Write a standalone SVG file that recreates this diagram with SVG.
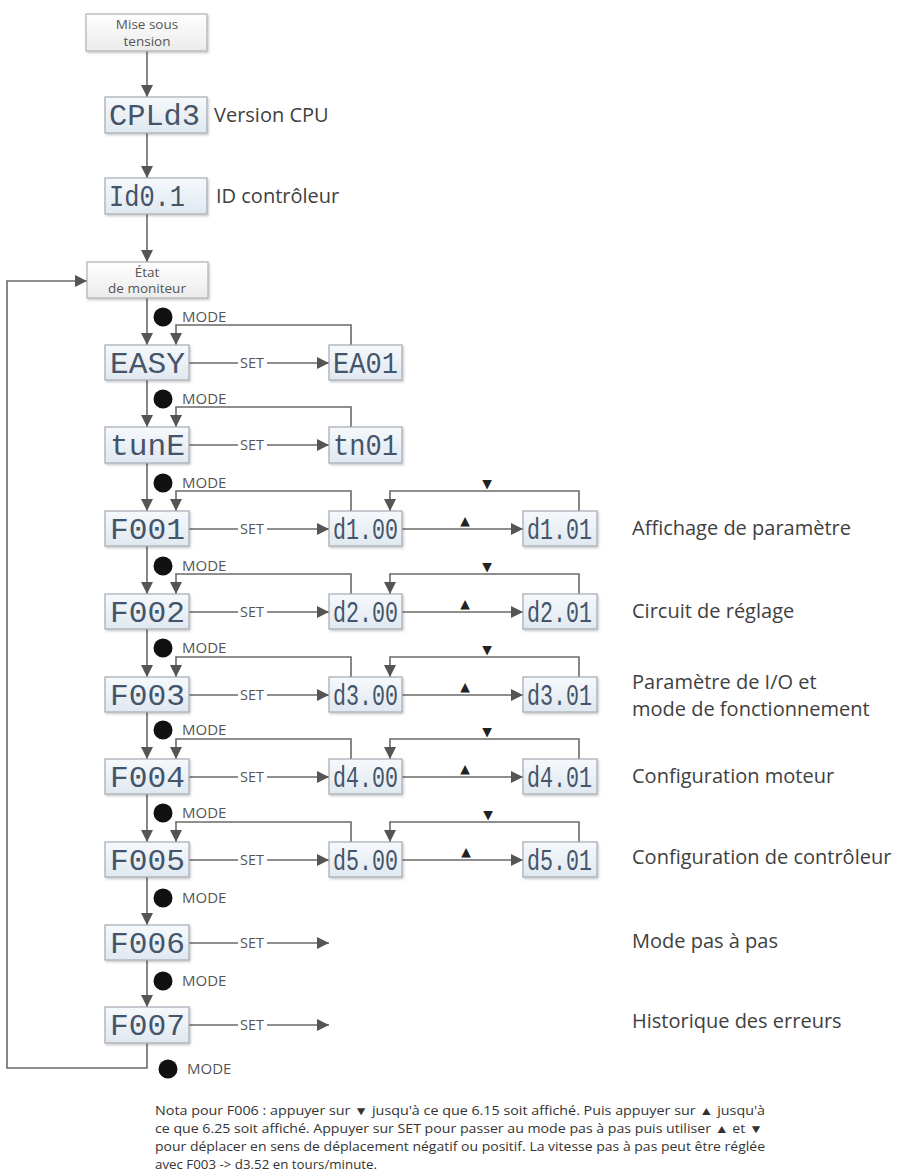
<svg xmlns="http://www.w3.org/2000/svg" width="901" height="1173" viewBox="0 0 901 1173">
<style>
.bg{fill:#ffffff}
.conn{stroke:#6a6a6a;stroke-width:1.6;fill:none}
.lcd{fill:url(#lcdGrad);stroke:#a3abb3;stroke-width:1.2;filter:url(#shadow)}
.plain{fill:url(#plainGrad);stroke:#b0b0b0;stroke-width:1.2;filter:url(#shadow)}
.lcdtxt{font-family:"Liberation Mono","DejaVu Sans Mono",monospace;font-size:30px;fill:#44546a}
.boxtxt{font-family:"Open Sans","Liberation Sans",sans-serif;font-size:13.5px;fill:#555;text-anchor:middle}
.lbl{font-family:"Open Sans","Liberation Sans",sans-serif;font-size:20px;fill:#404040}
.mode{font-family:"Open Sans","Liberation Sans",sans-serif;font-size:15px;fill:#555}
.set{font-family:"Open Sans","Liberation Sans",sans-serif;font-size:14.5px;fill:#555;text-anchor:middle}
.key{font-family:"DejaVu Sans",sans-serif;font-size:12.5px;fill:#222;text-anchor:middle}
.note{font-family:"Open Sans","Liberation Sans","DejaVu Sans",sans-serif;font-size:12px;fill:#333}
.dot{fill:#111}
</style>
<defs>
<linearGradient id="lcdGrad" x1="0" y1="0" x2="0" y2="1"><stop offset="0" stop-color="#f6f9fc"/><stop offset="1" stop-color="#e0e8f0"/></linearGradient>
<linearGradient id="plainGrad" x1="0" y1="0" x2="0" y2="1"><stop offset="0" stop-color="#ffffff"/><stop offset="1" stop-color="#ebebeb"/></linearGradient>
<filter id="shadow" x="-10%" y="-10%" width="125%" height="135%"><feDropShadow dx="1.2" dy="1.5" stdDeviation="0.8" flood-color="#000" flood-opacity="0.22"/></filter>
<marker id="arr" markerUnits="userSpaceOnUse" markerWidth="12" markerHeight="12" refX="12" refY="6" orient="auto"><path d="M0,0 L12,6 L0,12 z" fill="#555"/></marker>
</defs>
<rect class="bg" x="0" y="0" width="901" height="1173"/>

<g id="connectors">
<path class="conn" d="M147,51 V97" marker-end="url(#arr)"/>
<path class="conn" d="M147,133 V178" marker-end="url(#arr)"/>
<path class="conn" d="M147,214 V262" marker-end="url(#arr)"/>
<path class="conn" d="M147,1043 V1068 H7 V281 H87" marker-end="url(#arr)"/>
<path class="conn" d="M147,298 V345" marker-end="url(#arr)"/>
<path class="conn" d="M147,380 V427" marker-end="url(#arr)"/>
<path class="conn" d="M147,463 V511" marker-end="url(#arr)"/>
<path class="conn" d="M147,546 V594" marker-end="url(#arr)"/>
<path class="conn" d="M147,629 V677" marker-end="url(#arr)"/>
<path class="conn" d="M147,712 V759" marker-end="url(#arr)"/>
<path class="conn" d="M147,794 V842" marker-end="url(#arr)"/>
<path class="conn" d="M147,877 V925" marker-end="url(#arr)"/>
<path class="conn" d="M147,960 V1007" marker-end="url(#arr)"/>
<path class="conn" d="M351,345 V325 H176 V345" marker-end="url(#arr)"/>
<path class="conn" d="M351,427 V407 H176 V427" marker-end="url(#arr)"/>
<path class="conn" d="M351,511 V491 H176 V511" marker-end="url(#arr)"/>
<path class="conn" d="M351,594 V574 H176 V594" marker-end="url(#arr)"/>
<path class="conn" d="M351,677 V657 H176 V677" marker-end="url(#arr)"/>
<path class="conn" d="M351,759 V739 H176 V759" marker-end="url(#arr)"/>
<path class="conn" d="M351,842 V822 H176 V842" marker-end="url(#arr)"/>
<path class="conn" d="M579,511 V491 H390 V511" marker-end="url(#arr)"/>
<path class="conn" d="M579,594 V574 H390 V594" marker-end="url(#arr)"/>
<path class="conn" d="M579,677 V657 H390 V677" marker-end="url(#arr)"/>
<path class="conn" d="M579,759 V739 H390 V759" marker-end="url(#arr)"/>
<path class="conn" d="M579,842 V822 H390 V842" marker-end="url(#arr)"/>
<path class="conn" d="M189,363 H238 M267,363 H329" marker-end="url(#arr)"/>
<path class="conn" d="M189,445 H238 M267,445 H329" marker-end="url(#arr)"/>
<path class="conn" d="M189,529 H238 M267,529 H329" marker-end="url(#arr)"/>
<path class="conn" d="M189,612 H238 M267,612 H329" marker-end="url(#arr)"/>
<path class="conn" d="M189,695 H238 M267,695 H329" marker-end="url(#arr)"/>
<path class="conn" d="M189,777 H238 M267,777 H329" marker-end="url(#arr)"/>
<path class="conn" d="M189,860 H238 M267,860 H329" marker-end="url(#arr)"/>
<path class="conn" d="M189,943 H238 M267,943 H329" marker-end="url(#arr)"/>
<path class="conn" d="M189,1025 H238 M267,1025 H329" marker-end="url(#arr)"/>
<path class="conn" d="M402,529 H523" marker-end="url(#arr)"/>
<path class="conn" d="M402,612 H523" marker-end="url(#arr)"/>
<path class="conn" d="M402,695 H523" marker-end="url(#arr)"/>
<path class="conn" d="M402,777 H523" marker-end="url(#arr)"/>
<path class="conn" d="M402,860 H523" marker-end="url(#arr)"/>
<text class="set" x="252" y="368">SET</text>
<text class="set" x="252" y="450">SET</text>
<text class="set" x="252" y="534">SET</text>
<text class="set" x="252" y="617">SET</text>
<text class="set" x="252" y="700">SET</text>
<text class="set" x="252" y="782">SET</text>
<text class="set" x="252" y="865">SET</text>
<text class="set" x="252" y="948">SET</text>
<text class="set" x="252" y="1030">SET</text>
<text class="key" x="487" y="488">▼</text>
<text class="key" x="487" y="571">▼</text>
<text class="key" x="487" y="654">▼</text>
<text class="key" x="487" y="736">▼</text>
<text class="key" x="488" y="819">▼</text>
<text class="key" x="465" y="525">▲</text>
<text class="key" x="465" y="608">▲</text>
<text class="key" x="465" y="691">▲</text>
<text class="key" x="465" y="773">▲</text>
<text class="key" x="466" y="856">▲</text>
<circle class="dot" cx="163" cy="317" r="9.5"/><text class="mode" x="182" y="322">MODE</text>
<circle class="dot" cx="163" cy="399" r="9.5"/><text class="mode" x="182" y="404">MODE</text>
<circle class="dot" cx="163" cy="483" r="9.5"/><text class="mode" x="182" y="488">MODE</text>
<circle class="dot" cx="163" cy="566" r="9.5"/><text class="mode" x="182" y="571">MODE</text>
<circle class="dot" cx="163" cy="648" r="9.5"/><text class="mode" x="182" y="653">MODE</text>
<circle class="dot" cx="163" cy="730" r="9.5"/><text class="mode" x="182" y="735">MODE</text>
<circle class="dot" cx="163" cy="813" r="9.5"/><text class="mode" x="182" y="818">MODE</text>
<circle class="dot" cx="163" cy="898" r="9.5"/><text class="mode" x="182" y="903">MODE</text>
<circle class="dot" cx="163" cy="981" r="9.5"/><text class="mode" x="182" y="986">MODE</text>
<circle class="dot" cx="168" cy="1069" r="9.5"/><text class="mode" x="187" y="1074">MODE</text>
</g>

<g id="n-power"><rect class="plain" x="86" y="14" width="121" height="37"/><text class="boxtxt" x="147" y="29">Mise sous</text><text class="boxtxt" x="147" y="46">tension</text></g>
<g id="n-cpu"><rect class="lcd" x="105" y="97" width="102" height="36"/><text class="lcdtxt" x="109" y="125" textLength="91" lengthAdjust="spacingAndGlyphs">CPLd3</text><text class="lbl" x="214" y="122">Version CPU</text></g>
<g id="n-id"><rect class="lcd" x="105" y="178" width="102" height="36"/><text class="lcdtxt" x="109" y="206" textLength="76" lengthAdjust="spacingAndGlyphs">Id0.1</text><text class="lbl" x="216" y="203">ID contrôleur</text></g>
<g id="n-monitor"><rect class="plain" x="87" y="262" width="121" height="36"/><text class="boxtxt" x="147" y="277">État</text><text class="boxtxt" x="147" y="293">de moniteur</text></g>

<g id="n-easy"><rect class="lcd" x="105" y="345" width="84" height="35"/><text class="lcdtxt" x="110" y="373" textLength="75" lengthAdjust="spacingAndGlyphs">EASY</text></g>
<g id="n-ea01"><rect class="lcd" x="329" y="345" width="73" height="35"/><text class="lcdtxt" x="333" y="373" textLength="65" lengthAdjust="spacingAndGlyphs">EA01</text></g>
<g id="n-tune"><rect class="lcd" x="105" y="427" width="84" height="36"/><text class="lcdtxt" x="110" y="455" textLength="75" lengthAdjust="spacingAndGlyphs">tunE</text></g>
<g id="n-tn01"><rect class="lcd" x="329" y="427" width="73" height="36"/><text class="lcdtxt" x="333" y="455" textLength="65" lengthAdjust="spacingAndGlyphs">tn01</text></g>

<g id="n-f001"><rect class="lcd" x="105" y="511" width="84" height="35"/><text class="lcdtxt" x="110" y="539" textLength="75" lengthAdjust="spacingAndGlyphs">F001</text></g>
<g id="n-d100"><rect class="lcd" x="329" y="511" width="73" height="35"/><text class="lcdtxt" x="333" y="539" textLength="65" lengthAdjust="spacingAndGlyphs">d1.00</text></g>
<g id="n-d101"><rect class="lcd" x="523" y="511" width="74" height="35"/><text class="lcdtxt" x="527" y="539" textLength="65" lengthAdjust="spacingAndGlyphs">d1.01</text><text class="lbl" x="632" y="535">Affichage de paramètre</text></g>

<g id="n-f002"><rect class="lcd" x="105" y="594" width="84" height="35"/><text class="lcdtxt" x="110" y="622" textLength="75" lengthAdjust="spacingAndGlyphs">F002</text></g>
<g id="n-d200"><rect class="lcd" x="329" y="594" width="73" height="35"/><text class="lcdtxt" x="333" y="622" textLength="65" lengthAdjust="spacingAndGlyphs">d2.00</text></g>
<g id="n-d201"><rect class="lcd" x="523" y="594" width="74" height="35"/><text class="lcdtxt" x="527" y="622" textLength="65" lengthAdjust="spacingAndGlyphs">d2.01</text><text class="lbl" x="632" y="618">Circuit de réglage</text></g>

<g id="n-f003"><rect class="lcd" x="105" y="677" width="84" height="35"/><text class="lcdtxt" x="110" y="705" textLength="75" lengthAdjust="spacingAndGlyphs">F003</text></g>
<g id="n-d300"><rect class="lcd" x="329" y="677" width="73" height="35"/><text class="lcdtxt" x="333" y="705" textLength="65" lengthAdjust="spacingAndGlyphs">d3.00</text></g>
<g id="n-d301"><rect class="lcd" x="523" y="677" width="74" height="35"/><text class="lcdtxt" x="527" y="705" textLength="65" lengthAdjust="spacingAndGlyphs">d3.01</text><text class="lbl" x="632" y="689">Paramètre de I/O et</text><text class="lbl" x="632" y="716">mode de fonctionnement</text></g>

<g id="n-f004"><rect class="lcd" x="105" y="759" width="84" height="35"/><text class="lcdtxt" x="110" y="787" textLength="75" lengthAdjust="spacingAndGlyphs">F004</text></g>
<g id="n-d400"><rect class="lcd" x="329" y="759" width="73" height="35"/><text class="lcdtxt" x="333" y="787" textLength="65" lengthAdjust="spacingAndGlyphs">d4.00</text></g>
<g id="n-d401"><rect class="lcd" x="523" y="759" width="74" height="35"/><text class="lcdtxt" x="527" y="787" textLength="65" lengthAdjust="spacingAndGlyphs">d4.01</text><text class="lbl" x="632" y="783">Configuration moteur</text></g>

<g id="n-f005"><rect class="lcd" x="105" y="842" width="84" height="35"/><text class="lcdtxt" x="110" y="870" textLength="75" lengthAdjust="spacingAndGlyphs">F005</text></g>
<g id="n-d500"><rect class="lcd" x="329" y="842" width="73" height="35"/><text class="lcdtxt" x="333" y="870" textLength="65" lengthAdjust="spacingAndGlyphs">d5.00</text></g>
<g id="n-d501"><rect class="lcd" x="523" y="842" width="74" height="35"/><text class="lcdtxt" x="527" y="870" textLength="65" lengthAdjust="spacingAndGlyphs">d5.01</text><text class="lbl" x="632" y="864">Configuration de contrôleur</text></g>

<g id="n-f006"><rect class="lcd" x="105" y="925" width="84" height="35"/><text class="lcdtxt" x="110" y="953" textLength="75" lengthAdjust="spacingAndGlyphs">F006</text><text class="lbl" x="632" y="948">Mode pas à pas</text></g>
<g id="n-f007"><rect class="lcd" x="105" y="1007" width="84" height="36"/><text class="lcdtxt" x="110" y="1035" textLength="75" lengthAdjust="spacingAndGlyphs">F007</text><text class="lbl" x="632" y="1028">Historique des erreurs</text></g>

<g id="note">
<text class="note" x="155" y="1115" textLength="610" lengthAdjust="spacingAndGlyphs">Nota pour F006 : appuyer sur ▼ jusqu'à ce que 6.15 soit affiché. Puis appuyer sur ▲ jusqu'à</text>
<text class="note" x="155" y="1133" textLength="608" lengthAdjust="spacingAndGlyphs">ce que 6.25 soit affiché. Appuyer sur SET pour passer au mode pas à pas puis utiliser  ▲ et ▼</text>
<text class="note" x="155" y="1151" textLength="610" lengthAdjust="spacingAndGlyphs">pour déplacer en sens de déplacement négatif ou positif. La vitesse pas à pas peut être réglée</text>
<text class="note" x="155" y="1169" textLength="222" lengthAdjust="spacingAndGlyphs">avec F003 -&gt; d3.52 en tours/minute.</text>
</g>
</svg>
